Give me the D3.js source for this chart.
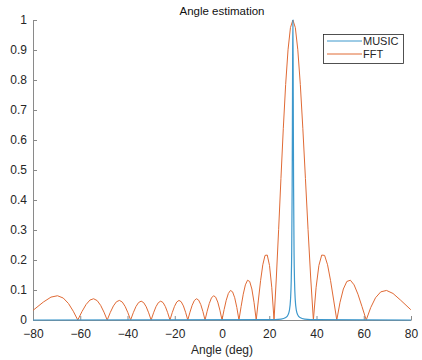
<!DOCTYPE html>
<html><head><meta charset="utf-8">
<script src="https://cdn.jsdelivr.net/npm/d3@7"></script>
<style>body{margin:0;background:#fff}svg{display:block;font-family:"Liberation Sans",Arial,sans-serif}</style>
</head><body><svg id="c" width="422" height="360"></svg>
<script>
const fftAngles = [-80,-79.856,-75.643,-72.392,-69.636,-67.20,-64.99,-62.95,-61.045,-59.256,-57.544,-55.907,-54.341,-52.837,-51.375,-49.960,-48.590,-47.260,-45.954,-44.679,-43.433,-42.214,-41.013,-39.840,-38.682,-37.548,-36.424,-35.312,-34.223,-33.150,-32.089,-31.039,-30,-28.972,-27.953,-26.944,-25.944,-24.953,-23.969,-22.994,-22.024,-21.062,-20.106,-19.155,-18.210,-17.270,-16.335,-15.404,-14.478,-13.555,-12.636,-11.720,-10.807,-9.897,-8.989,-8.084,-7.181,-6.279,-5.379,-4.481,-3.583,-2.687,-1.791,-0.895,0,0.895,1.791,2.687,3.583,4.481,5.379,6.279,7.181,8.084,8.989,9.897,10.807,11.720,12.636,13.555,14.478,15.404,16.335,17.270,18.210,19.155,20.106,21.062,22.024,22.994,23.969,24.953,25.944,26.944,27.953,28.972,30,31.039,32.089,33.150,34.223,35.312,36.424,37.548,38.682,39.840,41.013,42.214,43.433,44.679,45.954,47.260,48.590,49.960,51.375,52.837,54.341,55.907,57.544,59.256,61.045,62.95,64.99,67.20,69.636,72.392,75.643,79.856,80];
const fftValues = [0.0329,0.03302,0.05965,0.07626,0.08085,0.07324,0.05502,0.02925,0,0.02831,0.05152,0.06636,0.07087,0.06464,0.04889,0.02616,0,0.02564,0.04694,0.06081,0.06531,0.05991,0.04556,0.02451,0,0.02428,0.04468,0.05818,0.06280,0.05790,0.04425,0.02392,0,0.02392,0.04425,0.05790,0.06280,0.05818,0.04468,0.02428,0,0.02451,0.04556,0.05991,0.06531,0.06081,0.04694,0.02564,0,0.02616,0.04889,0.06464,0.07087,0.06636,0.05152,0.02831,0,0.02925,0.05502,0.07324,0.08085,0.07626,0.05965,0.03302,0,0.03469,0.06581,0.08840,0.09852,0.09385,0.07419,0.04154,0,0.04471,0.08596,0.11715,0.13258,0.12843,0.10336,0.05902,0,0.06646,0.13118,0.18408,0.21531,0.21650,0.18188,0.10916,0,0.13990,0.30119,0.47171,0.63765,0.78491,0.90067,0.97460,1,0.97460,0.90067,0.78491,0.63765,0.47171,0.30119,0.13990,0,0.10916,0.18188,0.21650,0.21531,0.18408,0.13118,0.06646,0,0.05902,0.10336,0.12843,0.13258,0.11715,0.08596,0.04471,0,0.04154,0.07419,0.09385,0.09852,0.08840,0.06581,0.03469,0.0346];
const musicAngles = [-80,20,25,27,28,28.5,29,29.3,29.5,29.7,29.8,29.9,30,30.1,30.2,30.3,30.5,30.7,31,31.5,32,33,35,40,80];
const musicValues = [0,0.001,0.003,0.008,0.018,0.031,0.068,0.13,0.226,0.447,0.646,0.879,1,0.879,0.646,0.447,0.226,0.13,0.068,0.031,0.018,0.008,0.003,0.001,0];
const xTicks = [-80,-60,-40,-20,0,20,40,60,80];
const yTicks = [0,0.1,0.2,0.3,0.4,0.5,0.6,0.7,0.8,0.9,1];
const seriesNames = ["MUSIC","FFT"];
const titleText = "Angle estimation";
const xLabel = "Angle (deg)";

const svg = d3.select("#c");
const m = {l:33, r:11, t:20, b:40};
const W = 422, H = 360;
const x = d3.scaleLinear().domain([-80,80]).range([m.l, W-m.r]);
const y = d3.scaleLinear().domain([0,1]).range([H-m.b, m.t]);
const axisCol = "#8a8a8a", textCol = "#262626";
const blue = "#3d98cc", orange = "#e06a35";

const line = d3.line().x(d=>x(d[0])).y(d=>y(d[1]));
const fftData = fftAngles.map((a,i)=>[a,fftValues[i]]);
const musicData = musicAngles.map((a,i)=>[a,musicValues[i]]);

const gx = svg.append("g").attr("transform",`translate(0,${y(0)})`)
  .call(d3.axisBottom(x).tickValues(xTicks).tickSizeInner(-4).tickSizeOuter(0).tickPadding(9).tickFormat(d3.format("d")));
const gy = svg.append("g").attr("transform",`translate(${x(-80)},0)`)
  .call(d3.axisLeft(y).tickValues(yTicks).tickSizeInner(-4).tickSizeOuter(0).tickPadding(6).tickFormat(d=>d===0?"0":d===1?"1":d3.format(".1f")(d)));
[gx,gy].forEach(g=>{
  g.select(".domain").attr("stroke",axisCol).attr("stroke-width",1);
  g.selectAll(".tick line").attr("stroke",axisCol);
  g.selectAll(".tick text").attr("fill",textCol).style("font-size","12px").style("font-family","'Liberation Sans',Arial,sans-serif");
});

svg.append("path").datum(fftData).attr("d",line).attr("fill","none").attr("stroke",orange).attr("stroke-width",1);
svg.append("path").datum(musicData).attr("d",line.curve(d3.curveMonotoneX)).attr("fill","none").attr("stroke",blue).attr("stroke-width",1.2);

svg.append("text").attr("x",(x(-80)+x(80))/2).attr("y",15).attr("text-anchor","middle")
  .attr("fill","#111").style("font-size","11.5px").text(titleText);
svg.append("text").attr("x",(x(-80)+x(80))/2).attr("y",354).attr("text-anchor","middle")
  .attr("fill",textCol).style("font-size","12px").text(xLabel);

const lg = svg.append("g");
lg.append("rect").attr("x",323.5).attr("y",34.5).attr("width",80).attr("height",29)
  .attr("fill","#fff").attr("stroke","#262626").attr("stroke-width",0.8);
[blue,orange].forEach((c,i)=>{
  const yy = 41 + i*13;
  lg.append("line").attr("x1",327).attr("x2",362).attr("y1",yy).attr("y2",yy).attr("stroke",c).attr("stroke-width",1);
  lg.append("text").attr("x",363).attr("y",yy+4).attr("fill",textCol).style("font-size","11px").text(seriesNames[i]);
});
</script></body></html>
